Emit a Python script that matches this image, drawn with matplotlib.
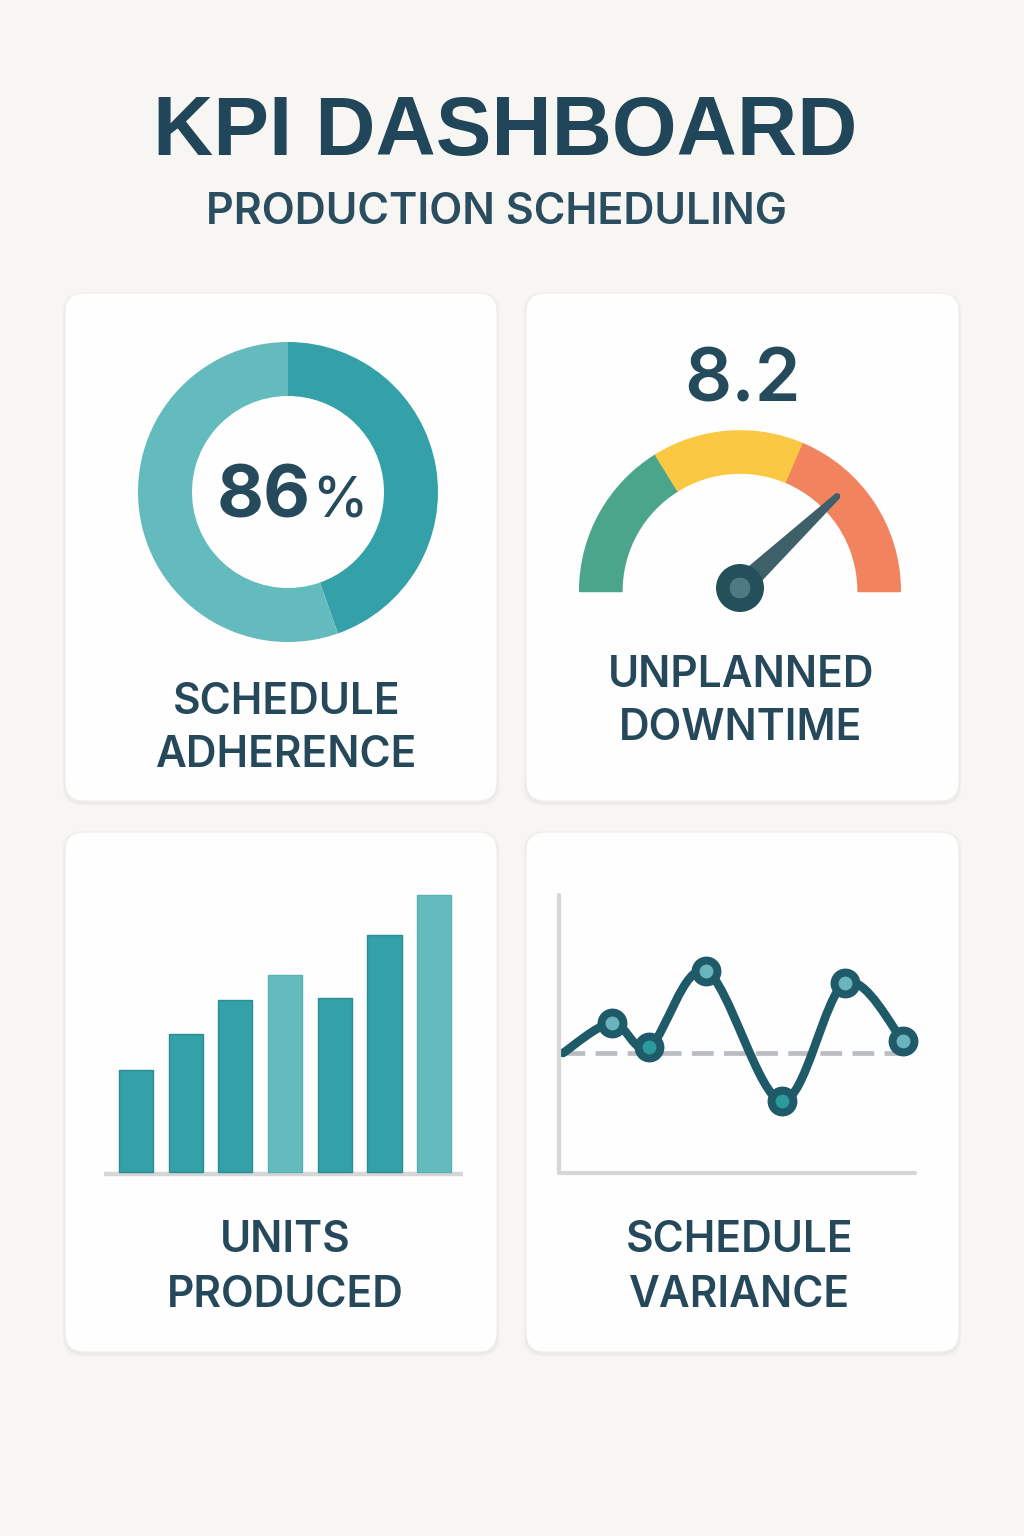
import numpy as np
import matplotlib
matplotlib.use("Agg")
import matplotlib.pyplot as plt
from matplotlib.patches import FancyBboxPatch, Wedge, Circle, Polygon, PathPatch
from matplotlib.path import Path

# ---- data ----
title = "KPI DASHBOARD"
subtitle = "PRODUCTION SCHEDULING"

adherence_label = "86"
adherence_split = [44.6, 55.4]          # dark / light ring segments as drawn

downtime_value = 8.2
gauge_bands = [0, 3.5, 6.8, 10.8]       # green / yellow / red band edges
gauge_colors = ["#4aa58b", "#fbc843", "#f1835f"]

units_produced = [510, 690, 860, 985, 870, 1185, 1385]
units_highlight = [False, False, False, True, False, False, True]

variance_x = [0, 1.30, 2.28, 3.78, 5.79, 7.46, 9.0]
variance_y = [0, 3.0, 0.6, 8.2, -4.8, 7.0, 1.2]
variance_marker = [None, "light", "teal", "light", "teal", "light", "light"]

card_titles = [("SCHEDULE", "ADHERENCE"), ("UNPLANNED", "DOWNTIME"),
               ("UNITS", "PRODUCED"), ("SCHEDULE", "VARIANCE")]

# ---- colours ----
BG = "#f8f6f2"
CARD = "#fefefe"
NAVY = "#21465a"
TEAL = "#34a0a7"
TEAL_EDGE = "#2a8d95"
TEAL_LIGHT = "#63bbbe"
LINE = "#1f5a69"
GREY = "#d6d6d6"

W, H = 1024, 1536
fig = plt.figure(figsize=(W / 100, H / 100), dpi=100, facecolor=BG)


def px_axes(x0, y0, x1, y1, z=1):
    ax = fig.add_axes([x0 / W, 1 - y1 / H, (x1 - x0) / W, (y1 - y0) / H], zorder=z)
    ax.set_facecolor("none")
    return ax


# background axes in pixel coords
bg = px_axes(0, 0, W, H, z=0)
bg.set_xlim(0, W)
bg.set_ylim(H, 0)
bg.axis("off")

cards = [(65, 293, 497, 801), (526, 293, 959, 801),
         (65, 832, 497, 1352), (526, 832, 959, 1352)]
for x0, y0, x1, y1 in cards:
    for k, a in [(6, 0.012), (4, 0.015), (2, 0.02)]:
        bg.add_patch(FancyBboxPatch((x0 - k / 2, y0 - k / 2 + 2), x1 - x0 + k, y1 - y0 + k,
                                    boxstyle="round,pad=0,rounding_size=20",
                                    fc="black", ec="none", alpha=a))
    bg.add_patch(FancyBboxPatch((x0, y0), x1 - x0, y1 - y0,
                                boxstyle="round,pad=0,rounding_size=19",
                                fc=CARD, ec="#f0eeea", lw=0.8))

bg.text(505, 155, title, ha="center", va="baseline", fontsize=60,
        fontweight="bold", family="Liberation Sans", color=NAVY)
bg.text(497, 224, subtitle, ha="center", va="baseline", fontsize=31,
        fontweight="semibold", family="Inter", color="#2b4d60")

label_pos = [(287, 714, 767), (741, 687, 740), (285, 1252, 1307), (740, 1252, 1307)]
for (l1, l2), (cx, b1, b2) in zip(card_titles, label_pos):
    for txt, b in [(l1, b1), (l2, b2)]:
        bg.text(cx, b, txt, ha="center", va="baseline", fontsize=30.5,
                fontweight="semibold", family="Inter", color="#26485b")

# ---- donut ----
ax1 = px_axes(138, 342, 438, 642)
ax1.pie(adherence_split, colors=[TEAL, TEAL_LIGHT], startangle=90, counterclock=False,
        radius=1.0, wedgeprops=dict(width=0.36, edgecolor="none"))
ax1.set_xlim(-1, 1)
ax1.set_ylim(-1, 1)
ax1.set_aspect("equal")
ax1.text(0.15, -0.173, adherence_label, ha="right", va="baseline", fontsize=52,
         fontweight="bold", family="Inter", color="#254a5c")
ax1.text(0.16, -0.173, "%", ha="left", va="baseline", fontsize=40,
         fontweight="medium", family="Inter", color="#254a5c")

# ---- gauge ----
ax2 = px_axes(560, 418, 920, 628)
ax2.set_xlim(-1.125, 1.125)
ax2.set_ylim(-0.25, 1.0625)
ax2.set_aspect("equal")
ax2.axis("off")
lo, hi = gauge_bands[0], gauge_bands[-1]


def val2ang(v):
    return 180 - 180 * (v - lo) / (hi - lo)


for i, c in enumerate(gauge_colors):
    a1 = val2ang(gauge_bands[i + 1])
    a2 = val2ang(gauge_bands[i])
    ax2.add_patch(Wedge((0, -0.02), 1.0, a1, a2, width=0.26, fc=c, ec=c,
                        lw=1.5, joinstyle="round"))
ang = np.deg2rad(val2ang(downtime_value))
L = 0.84
d = np.array([np.cos(ang), np.sin(ang)])
n = np.array([-d[1], d[0]])
needle = np.array([n * 0.065, d * L + n * 0.016, d * (L + 0.012), d * L - n * 0.016, -n * 0.065])
ax2.add_patch(Polygon(needle, closed=True, fc="#3e6069", ec="#3e6069", lw=1, joinstyle="round"))
ax2.add_patch(Circle((0, 0), 0.15, fc="#24505c", ec="none"))
ax2.add_patch(Circle((0, 0), 0.065, fc="#4f7a81", ec="none"))
bg.text(742, 402, f"{downtime_value:.1f}", ha="center", va="baseline", fontsize=53,
        fontweight="semibold", family="Inter", color="#254a5c")

# ---- bars ----
ax3 = px_axes(104, 880, 463, 1178)
xs = np.arange(len(units_produced))
cols = [TEAL_LIGHT if h else TEAL for h in units_highlight]
edges = ["#55b1b4" if h else TEAL_EDGE for h in units_highlight]
ax3.bar(xs, units_produced, width=0.685, color=cols, edgecolor=edges, linewidth=1, zorder=2)
ax3.axhline(-10, color=GREY, lw=3.2, solid_capstyle="round", zorder=1)
ax3.set_xlim(-0.644, 6.58)
ax3.set_ylim(-30, 1460)
ax3.axis("off")

# ---- variance line ----
ax4 = px_axes(559, 895, 915, 1173)
ax4.set_xlim(-0.106, 9.31)
ax4.set_ylim(-12.0, 15.8)
for s in ["top", "right"]:
    ax4.spines[s].set_visible(False)
for s in ["left", "bottom"]:
    ax4.spines[s].set_color(GREY)
    ax4.spines[s].set_linewidth(3)
    ax4.spines[s].set_capstyle("round")
ax4.set_xticks([])
ax4.set_yticks([])
ax4.plot([0, 9.31], [0, 0], color="#b9bdc1", lw=3.4, dashes=(4.6, 2.2), zorder=1)

# smooth curve through the points (Catmull-Rom as cubic Bezier)
P = np.column_stack([variance_x, variance_y])
verts = [P[0]]
codes = [Path.MOVETO]
for i in range(len(P) - 1):
    p0 = P[i - 1] if i > 0 else P[i]
    p1, p2 = P[i], P[i + 1]
    p3 = P[i + 2] if i + 2 < len(P) else P[i + 1]
    c1 = p1 + (p2 - p0) / 6
    c2 = p2 - (p3 - p1) / 6
    verts += [c1, c2, p2]
    codes += [Path.CURVE4] * 3
ax4.add_patch(PathPatch(Path(verts, codes), fc="none", ec=LINE, lw=6.2,
                        capstyle="round", zorder=2))
inner = {"light": "#6bb4bb", "teal": "#2a9a9c"}
for x, y, m in zip(variance_x, variance_y, variance_marker):
    if m is None:
        continue
    ax4.plot(x, y, "o", ms=20.5, mfc=LINE, mec=LINE, zorder=3, clip_on=False)
    ax4.plot(x, y, "o", ms=10, mfc=inner[m], mec="none", zorder=4, clip_on=False)

fig.savefig("out.png", dpi=100, facecolor=BG)
